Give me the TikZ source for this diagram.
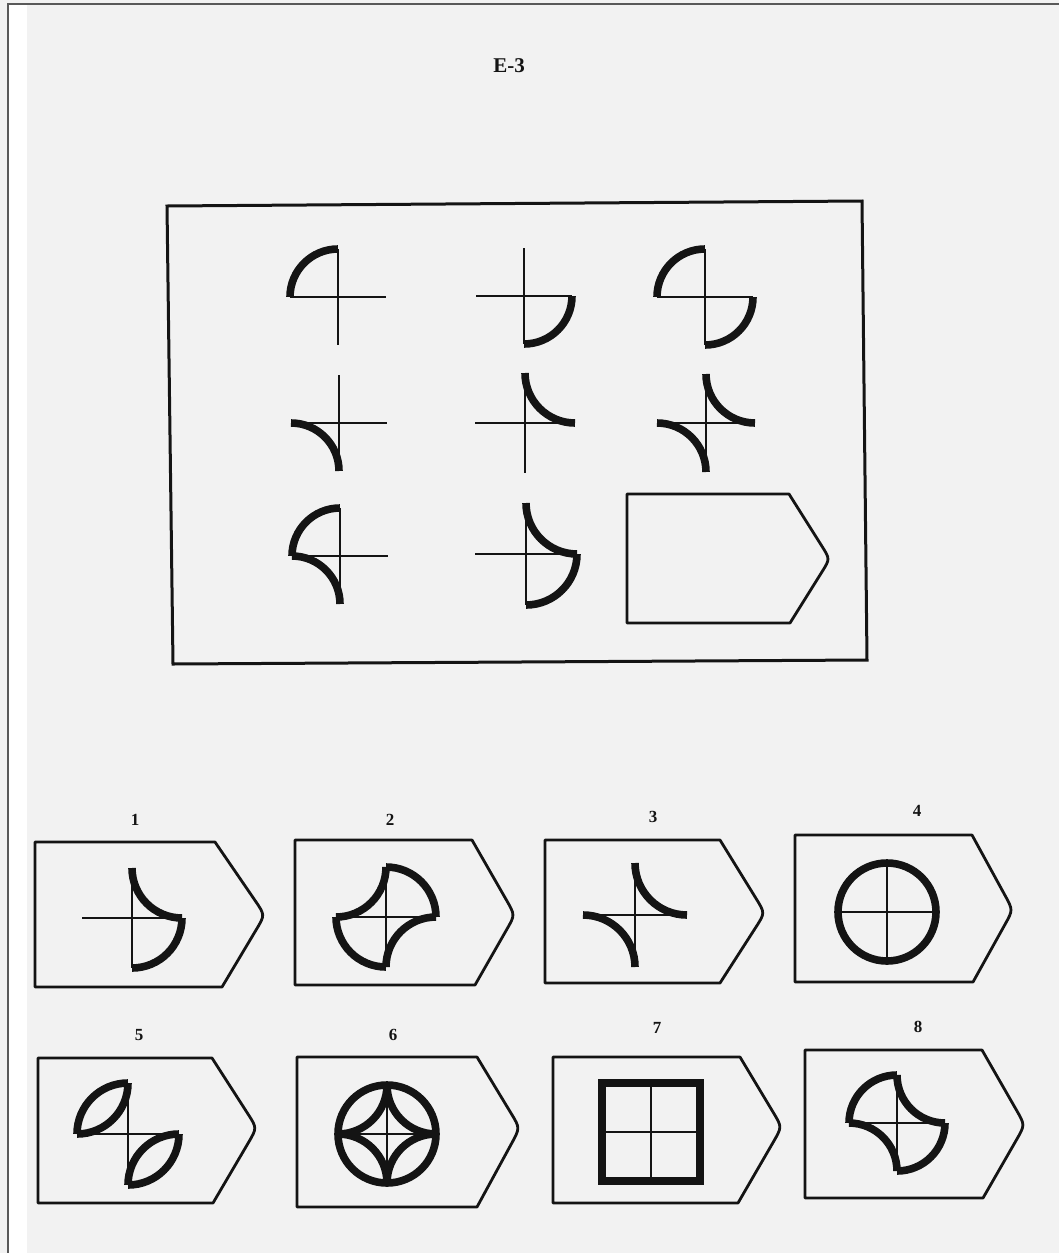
\documentclass[tikz,border=0pt]{standalone}
\usepackage{fontspec}
\setmainfont{Liberation Serif}
\usetikzlibrary{calc}
\definecolor{paper}{HTML}{F2F2F2}
\definecolor{ink}{HTML}{141414}
\tikzset{
  thinl/.style={draw=ink,line width=1.1pt},
  thk/.style={draw=ink,line width=3.8pt},
  tagl/.style={draw=ink,line width=1.4pt,line join=round},
  frameline/.style={draw=black!65,line width=1.2pt},
  lbl/.style={font=\bfseries\fontsize{8.5}{10}\selectfont,text=ink,inner sep=0pt}
}
% cross
\newcommand\xcross[3]{\draw[thinl] (#1-#3,#2) -- (#1+#3,#2) (#1,#2-#3) -- (#1,#2+#3);}
% convex arcs
\newcommand\vxTL[3]{\draw[thk] (#1-#3,#2) arc[start angle=180,end angle=270,radius=#3];}
\newcommand\vxTR[3]{\draw[thk] (#1,#2-#3) arc[start angle=270,end angle=360,radius=#3];}
\newcommand\vxBR[3]{\draw[thk] (#1+#3,#2) arc[start angle=0,end angle=90,radius=#3];}
\newcommand\vxBL[3]{\draw[thk] (#1,#2+#3) arc[start angle=90,end angle=180,radius=#3];}
% concave arcs
\newcommand\ccTL[3]{\draw[thk] (#1-#3,#2) arc[start angle=90,end angle=0,radius=#3];}
\newcommand\ccTR[3]{\draw[thk] (#1,#2-#3) arc[start angle=180,end angle=90,radius=#3];}
\newcommand\ccBR[3]{\draw[thk] (#1+#3,#2) arc[start angle=270,end angle=180,radius=#3];}
\newcommand\ccBL[3]{\draw[thk] (#1,#2+#3) arc[start angle=360,end angle=270,radius=#3];}
% tag box: left, top, top corner x, tip x, tip y, bottom, bottom corner x
\newcommand\tagbox[7]{\draw[tagl] (#1,#2) -- (#3,#2) -- ($(#4,#5)!0.2!(#3,#2)$) .. controls (#4,#5) .. ($(#4,#5)!0.2!(#7,#6)$) -- (#7,#6) -- (#1,#6) -- cycle;}
\begin{document}
\begin{tikzpicture}[x=0.5pt,y=-0.5pt]
\useasboundingbox (0,0) rectangle (1059,1253);
\fill[paper] (0,0) rectangle (1059,1253);
\fill[white] (9,5) rectangle (27,1253);
\draw[frameline] (8,1253) -- (8,4) -- (1059,4);

\node[lbl,font=\bfseries\fontsize{10.5}{12}\selectfont] (title) at (509,66) {E-3};

% main matrix box
\draw[tagl,line width=1.5pt,line join=miter] (167,206) -- (862,201) -- (867,660) -- (173,664) -- cycle;

% row 1
\xcross{338}{297}{48} \vxTL{338}{297}{48}
\xcross{524}{296}{48} \vxBR{524}{296}{48}
\xcross{705}{297}{48} \vxTL{705}{297}{48} \vxBR{705}{297}{48}
% row 2
\xcross{339}{423}{48} \ccBL{339}{423}{48}
\xcross{525}{423}{50} \ccTR{525}{423}{50}
\xcross{706}{423}{49} \ccTR{706}{423}{49} \ccBL{706}{423}{49}
% row 3
\xcross{340}{556}{48} \vxTL{340}{556}{48} \ccBL{340}{556}{48}
\xcross{526}{554}{51} \ccTR{526}{554}{51} \vxBR{526}{554}{51}
% blank
\tagbox{627}{494}{789}{830}{559}{623}{790}

% option labels
\node[lbl] (n1) at (135,820) {1};
\node[lbl] (n2) at (390,820) {2};
\node[lbl] (n3) at (653,817) {3};
\node[lbl] (n4) at (917,811) {4};
\node[lbl] (n5) at (139,1035) {5};
\node[lbl] (n6) at (393,1035) {6};
\node[lbl] (n7) at (657,1028) {7};
\node[lbl] (n8) at (918,1027) {8};

% option boxes
\tagbox{35}{842}{215}{265}{915}{987}{222}
\tagbox{295}{840}{472}{515}{915}{985}{475}
\tagbox{545}{840}{720}{765}{913}{983}{720}
\tagbox{795}{835}{972}{1013}{910}{982}{973}
\tagbox{38}{1058}{212}{257}{1128}{1203}{213}
\tagbox{297}{1057}{477}{520}{1128}{1207}{477}
\tagbox{553}{1057}{740}{782}{1127}{1203}{738}
\tagbox{805}{1050}{982}{1025}{1125}{1198}{983}

% option 1
\xcross{132}{918}{50} \ccTR{132}{918}{50} \vxBR{132}{918}{50}
% option 2
\xcross{386}{917}{50} \ccTL{386}{917}{50} \vxTR{386}{917}{50} \ccBR{386}{917}{50} \vxBL{386}{917}{50}
% option 3
\xcross{635}{915}{52} \ccTR{635}{915}{52} \ccBL{635}{915}{52}
% option 4
\xcross{887}{912}{50}
\draw[thk] (887,912) circle[radius=49];
% option 5
\xcross{128}{1134}{51}
\vxTL{128}{1134}{51} \ccTL{128}{1134}{51}
\vxBR{128}{1134}{51} \ccBR{128}{1134}{51}
% option 6
\xcross{387}{1134}{49}
\draw[thk] (387,1134) circle[radius=49];
\ccTL{387}{1134}{49} \ccTR{387}{1134}{49} \ccBR{387}{1134}{49} \ccBL{387}{1134}{49}
% option 7
\xcross{651}{1132}{49}
\draw[thk,line join=miter] (651-49,1132-49) rectangle (651+49,1132+49);
% option 8
\xcross{897}{1123}{48} \vxTL{897}{1123}{48} \ccTR{897}{1123}{48} \vxBR{897}{1123}{48} \ccBL{897}{1123}{48}
\end{tikzpicture}
\end{document}
